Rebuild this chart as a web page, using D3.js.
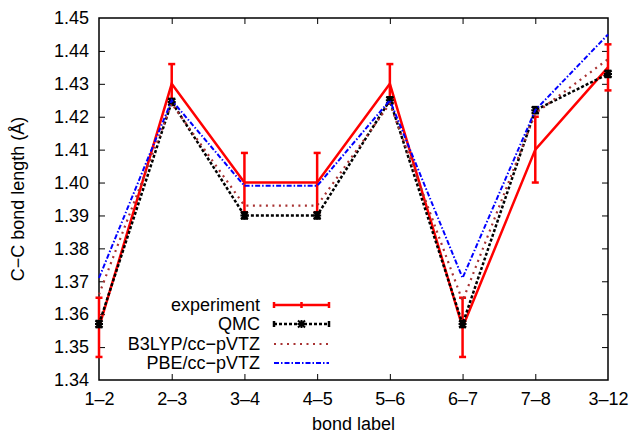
<!DOCTYPE html>
<html><head><meta charset="utf-8">
<script src="https://cdn.jsdelivr.net/npm/d3@7"></script>
<style>
body{margin:0;background:#fff;}
svg{display:block;font-family:"Liberation Sans",Arial,Helvetica,sans-serif;}
</style></head>
<body><svg id="chart" width="633" height="437"></svg>
<script>
const categories = ["1–2","2–3","3–4","4–5","5–6","6–7","7–8","3–12"];
const experiment = [1.356,1.430,1.400,1.400,1.430,1.356,1.410,1.435];
const experimentErr = [0.009,0.006,0.009,0.009,0.006,0.009,0.010,0.007];
const qmc = [1.357,1.4245,1.390,1.390,1.425,1.357,1.422,1.433];
const qmcErr = [0.001,0.001,0.001,0.001,0.001,0.001,0.001,0.001];
const b3lyp = [1.366,1.424,1.393,1.393,1.424,1.364,1.421,1.4375];
const pbe = [1.371,1.425,1.399,1.399,1.425,1.371,1.422,1.445];
const yTicks = [1.34,1.35,1.36,1.37,1.38,1.39,1.40,1.41,1.42,1.43,1.44,1.45];
const seriesNames = ["experiment","QMC","B3LYP/cc−pVTZ","PBE/cc−pVTZ"];

const svg = d3.select("#chart");
const L=99, R=608, T=18, B=380;
const x = d3.scalePoint().domain(categories).range([L,R]).padding(0);
const y = d3.scaleLinear().domain([1.34,1.45]).range([B,T]);
const FS = "18px";

// axes
const axL = svg.append("g").attr("transform",`translate(${L},0)`)
  .call(d3.axisLeft(y).tickValues(yTicks).tickFormat(d3.format(".2f")).tickSize(-6).tickPadding(10));
const axR = svg.append("g").attr("transform",`translate(${R},0)`)
  .call(d3.axisRight(y).tickValues(yTicks.slice(1,-1)).tickFormat("").tickSize(-6));
const axB = svg.append("g").attr("transform",`translate(0,${B})`)
  .call(d3.axisBottom(x).tickSize(-6).tickPadding(12));
const axT = svg.append("g").attr("transform",`translate(0,${T})`)
  .call(d3.axisTop(x).tickValues(categories.slice(1,-1)).tickFormat("").tickSize(-6));
[axL,axR,axB,axT].forEach(g=>{
  g.select(".domain").remove();
  g.selectAll("text").attr("font-size",FS).attr("fill","#000").attr("font-family","Liberation Sans, Arial, sans-serif");
  g.selectAll("line").attr("stroke","#000").attr("stroke-width",1);
});
axL.selectAll(".tick").filter(d=>d===1.34||d===1.45).select("line").remove();
axB.selectAll(".tick").filter((d,i)=>i===0||i===categories.length-1).select("line").remove();

svg.append("rect").attr("x",L).attr("y",T).attr("width",R-L).attr("height",B-T)
  .attr("fill","none").attr("stroke","#000").attr("stroke-width",1.5);

// titles
svg.append("text").attr("transform",`translate(24,${(T+B)/2}) rotate(-90)`)
  .attr("text-anchor","middle").attr("font-size",FS).text("C−C bond length (Å)");
svg.append("text").attr("x",(L+R)/2).attr("y",430).attr("text-anchor","middle")
  .attr("font-size",FS).text("bond label");

const line = d3.line().x((d,i)=>x(categories[i])).y(d=>y(d));
const styles = [
  {color:"#ff0000", w:2.5, dash:null},
  {color:"#000000", w:2.5, dash:"3,2"},
  {color:"#a83232", w:2.2, dash:"2,4.5"},
  {color:"#0000ff", w:2, dash:"5,2,1.5,2"}
];

function errBars(vals, errs, color, w){
  const g = svg.append("g").attr("stroke",color).attr("stroke-width",w).attr("fill","none");
  vals.forEach((v,i)=>{
    const cx = x(categories[i]);
    g.append("line").attr("x1",cx).attr("x2",cx).attr("y1",y(v-errs[i])).attr("y2",y(v+errs[i]));
    [v-errs[i], v+errs[i]].forEach(e=>{
      g.append("line").attr("x1",cx-3.5).attr("x2",cx+3.5).attr("y1",y(e)).attr("y2",y(e));
    });
  });
}
function star(g, cx, cy, color){
  const s=3.5;
  g.append("path").attr("d",`M${cx-s},${cy-s}L${cx+s},${cy+s}M${cx-s},${cy+s}L${cx+s},${cy-s}M${cx-s-0.5},${cy}L${cx+s+0.5},${cy}M${cx},${cy-s-0.5}L${cx},${cy+s+0.5}`)
   .attr("stroke",color).attr("stroke-width",2).attr("fill","none");
}

// experiment
svg.append("path").datum(experiment).attr("d",line).attr("fill","none")
  .attr("stroke",styles[0].color).attr("stroke-width",styles[0].w);
errBars(experiment, experimentErr, styles[0].color, 2.5);
// QMC
svg.append("path").datum(qmc).attr("d",line).attr("fill","none")
  .attr("stroke",styles[1].color).attr("stroke-width",styles[1].w).attr("stroke-dasharray",styles[1].dash);
errBars(qmc, qmcErr, "#000", 2);
const gq = svg.append("g");
qmc.forEach((v,i)=>star(gq, x(categories[i]), y(v), "#000"));
// B3LYP
svg.append("path").datum(b3lyp).attr("d",line).attr("fill","none")
  .attr("stroke",styles[2].color).attr("stroke-width",styles[2].w).attr("stroke-dasharray",styles[2].dash);
// PBE
svg.append("path").datum(pbe).attr("d",line).attr("fill","none")
  .attr("stroke",styles[3].color).attr("stroke-width",styles[3].w).attr("stroke-dasharray",styles[3].dash);

// legend
const legY = [305,324,344,363];
const lx1=274, lx2=329;
seriesNames.forEach((n,i)=>{
  svg.append("text").attr("x",260).attr("y",legY[i]).attr("dy","0.35em").attr("text-anchor","end")
    .attr("font-size",FS).text(n);
  const st = styles[i];
  svg.append("line").attr("x1",lx1).attr("x2",lx2).attr("y1",legY[i]).attr("y2",legY[i])
    .attr("stroke",st.color).attr("stroke-width",st.w).attr("stroke-dasharray",st.dash);
  if(i<2){
    const g = svg.append("g").attr("stroke",st.color).attr("stroke-width",2.5);
    [lx1,lx2].forEach(px=>g.append("line").attr("x1",px).attr("x2",px).attr("y1",legY[i]-3).attr("y2",legY[i]+3));
    if(i===1) star(svg, (lx1+lx2)/2, legY[i], "#000");
    else g.append("line").attr("x1",(lx1+lx2)/2).attr("x2",(lx1+lx2)/2).attr("y1",legY[i]-3).attr("y2",legY[i]+3);
  }
});
</script></body></html>
